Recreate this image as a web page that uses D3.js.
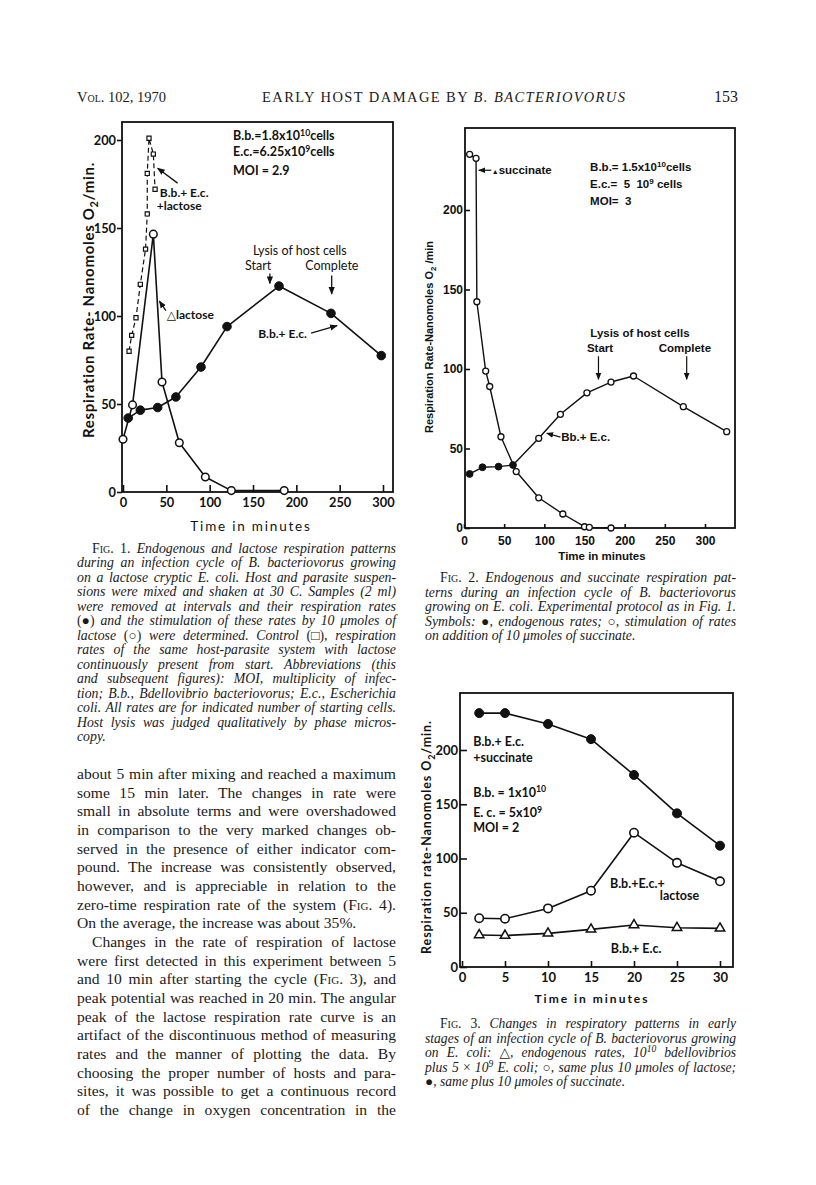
<!DOCTYPE html>
<html>
<head>
<meta charset="utf-8">
<script src="https://cdn.jsdelivr.net/npm/d3@7"></script>
<style>
  body { margin: 0; background: #fff; }
  svg { display: block; }
  .serif { font-family: "Liberation Serif", "DejaVu Serif", serif; fill: #1a1a1a; }
  .geo { font-family: Lato, "DejaVu Sans", sans-serif; font-weight: 700; fill: #111; }
  .narrow { font-family: "Liberation Sans Narrow", "Liberation Sans", Arial, sans-serif; font-weight: 700; fill: #111; }
</style>
</head>
<body>
<div id="page"></div>
<script>
// ---- Fig. 1 values (minutes, nanomoles O2/min)
const fig1EndoTime = [6, 20, 40, 61, 90, 120, 180, 240, 298];
const fig1EndoRate = [42, 46.5, 48, 54, 71, 94, 117, 101.5, 77.5];
const fig1LactoseTime = [0, 11, 35, 45, 65, 95, 125, 186];
const fig1LactoseRate = [30, 49.5, 146.5, 62.5, 28, 8.5, 0.8, 0.8];
const fig1ControlTime = [7, 10, 15, 20, 26, 28, 28, 30, 35, 37];
const fig1ControlRate = [80, 89, 99, 118, 138, 158, 181, 201, 192, 172];
const fig1XTicks = [0, 50, 100, 150, 200, 250, 300];
const fig1YTicks = [0, 50, 100, 150, 200];

// ---- Fig. 2 values
const fig2EndoTime = [7, 23, 43, 61];
const fig2EndoRate = [34, 38.2, 38.6, 39.6];
const fig2HostTime = [61, 93, 120, 153, 183, 211, 273, 327];
const fig2HostRate = [39.6, 56.4, 71.5, 85, 91.8, 95.6, 76.3, 60.6];
const fig2SuccTime = [7, 15, 16, 27, 32, 46, 65, 93, 123, 150, 156, 183];
const fig2SuccRate = [235, 232.5, 142.3, 98.7, 89, 57.4, 35.5, 19, 8.8, 0.8, 0.4, 0];
const fig2XTicks = [0, 50, 100, 150, 200, 250, 300];
const fig2YTicks = [0, 50, 100, 150, 200];

// ---- Fig. 3 values
const fig3Time = [2, 5, 10, 15, 20, 25, 30];
const fig3Endo = [29.5, 29, 31, 34.7, 38.7, 36.2, 35.6];
const fig3Lactose = [45, 44.5, 54, 70.3, 123.8, 96, 79];
const fig3Succinate = [234, 234, 224, 210, 177, 141.6, 111.8];
const fig3XTicks = [0, 5, 10, 15, 20, 25, 30];
const fig3YTicks = [0, 50, 100, 150, 200];

// ---- page text
const fig1Caption = [
  "{s:Fig. 1.} Endogenous and lactose respiration patterns",
  "during an infection cycle of B. bacteriovorus growing",
  "on a lactose cryptic E. coli. Host and parasite suspen-",
  "sions were mixed and shaken at 30 C. Samples (2 ml)",
  "were removed at intervals and their respiration rates",
  "{r:(●)} and the stimulation of these rates by 10 μmoles of",
  "lactose {r:(○)} were determined. Control {r:(□)}, respiration",
  "rates of the same host-parasite system with lactose",
  "continuously present from start. Abbreviations (this",
  "and subsequent figures): MOI, multiplicity of infec-",
  "tion; B.b., Bdellovibrio bacteriovorus; E.c., Escherichia",
  "coli. All rates are for indicated number of starting cells.",
  "Host lysis was judged qualitatively by phase micros-",
  "copy."
];
const bodyPara1 = [
  "about 5 min after mixing and reached a maximum",
  "some 15 min later. The changes in rate were",
  "small in absolute terms and were overshadowed",
  "in comparison to the very marked changes ob-",
  "served in the presence of either indicator com-",
  "pound. The increase was consistently observed,",
  "however, and is appreciable in relation to the",
  "zero-time respiration rate of the system ({s:Fig.} 4).",
  "On the average, the increase was about 35%."
];
const bodyPara2 = [
  "Changes in the rate of respiration of lactose",
  "were first detected in this experiment between 5",
  "and 10 min after starting the cycle ({s:Fig.} 3), and",
  "peak potential was reached in 20 min. The angular",
  "peak of the lactose respiration rate curve is an",
  "artifact of the discontinuous method of measuring",
  "rates and the manner of plotting the data. By",
  "choosing the proper number of hosts and para-",
  "sites, it was possible to get a continuous record",
  "of the change in oxygen concentration in the"
];
const fig2Caption = [
  "{s:Fig. 2.} Endogenous and succinate respiration pat-",
  "terns during an infection cycle of B. bacteriovorus",
  "growing on E. coli. Experimental protocol as in Fig. 1.",
  "Symbols: {r:●}, endogenous rates; {r:○}, stimulation of rates",
  "on addition of 10 μmoles of succinate."
];
const fig3Caption = [
  "{s:Fig. 3.} Changes in respiratory patterns in early",
  "stages of an infection cycle of B. bacteriovorus growing",
  "on E. coli: {r:△}, endogenous rates, 10^{10} bdellovibrios",
  "plus 5 {r:×} 10^{9} E. coli; {r:○}, same plus 10 μmoles of lactose;",
  "{r:●}, same plus 10 μmoles of succinate."
];

const svg = d3.select("#page").append("svg")
  .attr("width", 816)
  .attr("height", 1185);
svg.append("rect").attr("width", 816).attr("height", 1185).attr("fill", "#fff");

const defs = svg.append("defs");
defs.append("marker")
  .attr("id", "arr")
  .attr("viewBox", "0 0 10 10")
  .attr("refX", 9).attr("refY", 5)
  .attr("markerWidth", 6).attr("markerHeight", 6)
  .attr("orient", "auto")
  .append("path").attr("d", "M0,1L10,5L0,9z").attr("fill", "#111");

// text with small markup: ^{sup} _{sub} {r:upright} {i:italic} {s:small caps}
function rich(sel, str, fs) {
  const parts = str.split(/(\^\{[^}]*\}|_\{[^}]*\}|\{[ris]:[^}]*\})/).filter(s => s.length);
  let shift = 0;
  parts.forEach(p => {
    let txt = p, dy = 0, size = null, style = null, caps = false;
    if (p.startsWith("^{")) { txt = p.slice(2, -1); size = fs * 0.7; dy = -fs * 0.36; }
    else if (p.startsWith("_{")) { txt = p.slice(2, -1); size = fs * 0.72; dy = fs * 0.28; }
    else if (p.startsWith("{r:")) { txt = p.slice(3, -1); style = "normal"; }
    else if (p.startsWith("{i:")) { txt = p.slice(3, -1); style = "italic"; }
    else if (p.startsWith("{s:")) { txt = p.slice(3, -1); style = "normal"; caps = true; }
    const t = sel.append("tspan").text(txt);
    if (size) t.attr("font-size", size);
    if (dy - shift !== 0) t.attr("dy", dy - shift);
    shift = dy;
    if (style) t.style("font-style", style);
    if (caps) t.style("font-variant", "small-caps");
  });
}

function label(g, px, py, str, fs, anchor) {
  const t = g.append("text")
    .attr("x", px).attr("y", py)
    .attr("font-size", fs)
    .attr("text-anchor", anchor || "start")
    .style("white-space", "pre");
  rich(t, str, fs);
  return t;
}

// one paragraph, lines justified to the column width
function paragraph(lines, o) {
  const g = svg.append("g").attr("class", "serif").attr("font-size", o.fs)
    .style("font-style", o.italic ? "italic" : "normal");
  lines.forEach((ln, i) => {
    const ind = (i === 0 && o.indent) ? o.indent : 0;
    const t = label(g, o.x + ind, o.y + i * o.lh, ln, o.fs);
    const last = i === lines.length - 1 && !o.justifyLast;
    if (!last) {
      const w = t.node().getComputedTextLength();
      const n = (t.text().match(/ /g) || []).length;
      if (n) t.attr("word-spacing", (o.width - ind - w) / n);
    }
  });
}

function frame(g, f) {
  g.append("rect")
    .attr("x", f.left).attr("y", f.top)
    .attr("width", f.right - f.left).attr("height", f.bottom - f.top)
    .attr("fill", "none").attr("stroke", "#111").attr("stroke-width", 1.8);
}

function styleAxis(sel, fs, cls) {
  sel.select(".domain").remove();
  sel.attr("font-family", null).attr("font-size", fs).attr("class", cls);
  sel.selectAll("line").attr("stroke", "#111").attr("stroke-width", 1.6);
  sel.selectAll("text").attr("fill", "#111");
}

function series(g, x, y, xs, ys, w, dash) {
  const line = d3.line().x(d => x(d[0])).y(d => y(d[1]));
  g.append("path")
    .datum(d3.zip(xs, ys))
    .attr("d", line)
    .attr("fill", "none")
    .attr("stroke", "#111")
    .attr("stroke-width", w)
    .attr("stroke-linejoin", "round")
    .attr("stroke-dasharray", dash || null);
}

function marks(g, x, y, xs, ys, kind, r, sw) {
  const pts = d3.zip(xs, ys);
  if (kind === "filled" || kind === "open") {
    g.selectAll(null).data(pts).enter().append("circle")
      .attr("cx", d => x(d[0])).attr("cy", d => y(d[1])).attr("r", r)
      .attr("fill", kind === "filled" ? "#111" : "#fff")
      .attr("stroke", "#111").attr("stroke-width", sw);
  } else {
    const sym = d3.symbol().type(kind === "square" ? d3.symbolSquare : d3.symbolTriangle).size(r * r * 3);
    g.selectAll(null).data(pts).enter().append("path")
      .attr("transform", d => "translate(" + x(d[0]) + "," + y(d[1]) + ")")
      .attr("d", sym)
      .attr("fill", "#fff").attr("stroke", "#111").attr("stroke-width", sw);
  }
}

function arrow(g, x, y, a, b, w) {
  g.append("line")
    .attr("x1", x(a[0])).attr("y1", y(a[1]))
    .attr("x2", x(b[0])).attr("y2", y(b[1]))
    .attr("stroke", "#111").attr("stroke-width", w || 1.3)
    .attr("marker-end", "url(#arr)");
}

// ---------------- running head
const head = svg.append("g").attr("class", "serif").attr("font-size", 14.5);
label(head, 77, 102, "{s:Vol.} 102, 1970", 14.5);
label(head, 262, 102, "EARLY HOST DAMAGE BY {i:B. BACTERIOVORUS}", 14.5)
  .attr("textLength", 363).attr("lengthAdjust", "spacing");
label(head, 738, 102, "153", 16, "end");

// ---------------- Fig. 1
(function () {
  const f = { left: 122, top: 122, right: 393, bottom: 492 };
  const x = d3.scaleLinear().domain([0, 300]).range([123, 383]);
  const y = d3.scaleLinear().domain([0, 200]).range([492, 140]);
  const g = svg.append("g").attr("class", "geo");

  frame(g, f);
  g.append("g").attr("transform", "translate(0," + f.bottom + ")")
    .call(d3.axisBottom(x).tickValues(fig1XTicks).tickSizeInner(-7).tickSizeOuter(0).tickPadding(6))
    .call(styleAxis, 12.8, "geo");
  g.append("g").attr("transform", "translate(" + f.left + ",0)")
    .call(d3.axisLeft(y).tickValues(fig1YTicks).tickSizeInner(5).tickSizeOuter(0).tickPadding(1))
    .call(styleAxis, 12.8, "geo");

  series(g, x, y, fig1ControlTime, fig1ControlRate, 1.2, "5,3");
  series(g, x, y, fig1LactoseTime, fig1LactoseRate, 1.6);
  series(g, x, y, fig1EndoTime, fig1EndoRate, 1.6);
  marks(g, x, y, fig1ControlTime, fig1ControlRate, "square", 2.4, 1.2);
  marks(g, x, y, fig1LactoseTime, fig1LactoseRate, "open", 3.8, 1.5);
  marks(g, x, y, fig1EndoTime, fig1EndoRate, "filled", 4.3, 1);

  label(g, x(127), y(200), "B.b.=1.8x10^{10}cells", 12.5);
  label(g, x(127), y(190.9), "E.c.=6.25x10^{9}cells", 12.5);
  label(g, x(127), y(180), "MOI = 2.9", 12.5);

  label(g, x(42.5), y(167.5), "B.b.+ E.c.", 12);
  label(g, x(39), y(160), "+lactose", 12);
  arrow(g, x, y, [63, 175.5], [40, 184]);

  label(g, x(50.5), y(98.5), "△lactose", 12);
  arrow(g, x, y, [49.5, 103], [42, 108.5]);

  label(g, x(156), y(87.5), "B.b.+ E.c.", 12);
  arrow(g, x, y, [217, 90.3], [247, 94.5]);

  g.append("text").attr("x", x(204)).attr("y", y(134.7)).attr("font-size", 12.5)
    .attr("text-anchor", "middle").attr("font-weight", 400).text("Lysis of host cells");
  g.append("text").attr("x", x(156)).attr("y", y(126)).attr("font-size", 12.5)
    .attr("text-anchor", "middle").attr("font-weight", 400).text("Start");
  g.append("text").attr("x", x(241)).attr("y", y(126)).attr("font-size", 12.5)
    .attr("text-anchor", "middle").attr("font-weight", 400).text("Complete");
  arrow(g, x, y, [169.5, 124.2], [169.5, 118.5], 1.3);
  arrow(g, x, y, [240.8, 123], [240.8, 112.5], 1.3);

  label(g, 0, 0, "Respiration Rate- Nanomoles O_{2}/min.", 15)
    .attr("transform", "translate(94,300) rotate(-90)")
    .attr("text-anchor", "middle")
    .attr("letter-spacing", 0.7);
  g.append("text").attr("x", 251).attr("y", 531).attr("font-size", 13.5)
    .attr("font-weight", 400).attr("letter-spacing", 1.8)
    .attr("text-anchor", "middle").text("Time in minutes");
})();

// ---------------- Fig. 2
(function () {
  const f = { left: 465, top: 128, right: 735, bottom: 528 };
  const x = d3.scaleLinear().domain([0, 300]).range([464, 705]);
  const y = d3.scaleLinear().domain([0, 200]).range([528, 210]);
  const g = svg.append("g").attr("class", "narrow");

  frame(g, f);
  g.append("g").attr("transform", "translate(0," + f.bottom + ")")
    .call(d3.axisBottom(x).tickValues(fig2XTicks).tickSizeInner(-4).tickSizeOuter(0).tickPadding(8))
    .call(styleAxis, 12, "narrow");
  g.append("g").attr("transform", "translate(" + f.left + ",0)")
    .call(d3.axisLeft(y).tickValues(fig2YTicks).tickSizeInner(-5).tickSizeOuter(0).tickPadding(2))
    .call(styleAxis, 12, "narrow");

  series(g, x, y, fig2SuccTime, fig2SuccRate, 1.4);
  series(g, x, y, fig2EndoTime, fig2EndoRate, 1.4);
  series(g, x, y, fig2HostTime, fig2HostRate, 1.4);
  marks(g, x, y, fig2SuccTime, fig2SuccRate, "open", 3, 1.3);
  marks(g, x, y, fig2HostTime.slice(1), fig2HostRate.slice(1), "open", 3, 1.3);
  marks(g, x, y, fig2EndoTime, fig2EndoRate, "filled", 3.4, 1);

  arrow(g, x, y, [34, 225], [18.5, 225], 1.2);
  label(g, x(34.5), y(222.6), "{r:▲}succinate", 11.5).select("tspan").attr("font-size", 7);

  label(g, x(157), y(224.5), "B.b.= 1.5x10^{10}cells", 11.5);
  label(g, x(157), y(213.8), "E.c.=  5  10^{9} cells", 11.5);
  label(g, x(157), y(203.1), "MOI=  3", 11.5);

  label(g, x(219), y(120.1), "Lysis of host cells", 11.5, "middle");
  label(g, x(169.3), y(110.7), "Start", 11.5, "middle");
  label(g, x(275), y(110.7), "Complete", 11.5, "middle");
  arrow(g, x, y, [167.4, 108], [167.4, 93.5], 1.2);
  arrow(g, x, y, [277.2, 108], [277.2, 93.5], 1.2);

  arrow(g, x, y, [120, 57.2], [103, 59.6], 1.2);
  label(g, x(121), y(54.7), "Bb.+ E.c.", 11.5);

  label(g, 0, 0, "Respiration Rate-Nanomoles O_{2} /min", 11)
    .attr("transform", "translate(433,337) rotate(-90)")
    .attr("text-anchor", "middle");
  g.append("text").attr("x", 602).attr("y", 560).attr("font-size", 11.5)
    .attr("text-anchor", "middle").text("Time in minutes");
})();

// ---------------- Fig. 3
(function () {
  const f = { left: 460, top: 693, right: 733, bottom: 967 };
  const x = d3.scaleLinear().domain([0, 30]).range([462, 720]);
  const y = d3.scaleLinear().domain([0, 200]).range([967, 750]);
  const g = svg.append("g").attr("class", "geo");

  frame(g, f);
  g.append("g").attr("transform", "translate(0," + f.bottom + ")")
    .call(d3.axisBottom(x).tickValues(fig3XTicks).tickSizeInner(-6).tickSizeOuter(0).tickPadding(6))
    .call(styleAxis, 13, "geo");
  g.append("g").attr("transform", "translate(" + f.left + ",0)")
    .call(d3.axisLeft(y).tickValues(fig3YTicks).tickSizeInner(-7).tickSizeOuter(0).tickPadding(2))
    .call(styleAxis, 13, "geo");

  series(g, x, y, fig3Time, fig3Succinate, 1.6);
  series(g, x, y, fig3Time, fig3Lactose, 1.6);
  series(g, x, y, fig3Time, fig3Endo, 1.6);
  marks(g, x, y, fig3Time, fig3Succinate, "filled", 4.5, 1);
  marks(g, x, y, fig3Time, fig3Lactose, "open", 4.2, 1.6);
  marks(g, x, y, fig3Time, fig3Endo, "triangle", 3.6, 1.5);

  label(g, x(1.3), y(203.7), "B.b.+ E.c.", 12.5);
  label(g, x(1.3), y(189), "+succinate", 12.5);
  label(g, x(1.3), y(156.7), "B.b. = 1x10^{10}", 12.5);
  label(g, x(1.3), y(138.2), "E. c. = 5x10^{9}", 12.5);
  label(g, x(1.3), y(124.4), "MOI = 2", 12.5);
  label(g, x(17.2), y(72.8), "B.b.+E.c.+", 12.5);
  label(g, x(23), y(61.8), "lactose", 12.5);
  label(g, x(17.3), y(12.9), "B.b.+ E.c.", 12.5);

  label(g, 0, 0, "Respiration rate-Nanomoles O_{2}/min.", 12.5)
    .attr("transform", "translate(431,837) rotate(-90)")
    .attr("text-anchor", "middle")
    .attr("letter-spacing", 0.9);
  g.append("text").attr("x", 592).attr("y", 1003).attr("font-size", 12)
    .attr("letter-spacing", 2).attr("text-anchor", "middle").text("Time in minutes");
})();

// ---------------- captions and body text
paragraph(fig1Caption, { x: 77, y: 553, lh: 14.46, width: 319, fs: 13.8, italic: true, indent: 15 });
paragraph(bodyPara1, { x: 77, y: 779, lh: 18.67, width: 319, fs: 15.6 });
paragraph(bodyPara2, { x: 77, y: 779 + 9 * 18.67, lh: 18.67, width: 319, fs: 15.6, indent: 15, justifyLast: true });
paragraph(fig2Caption, { x: 425, y: 582, lh: 14.5, width: 311, fs: 13.8, italic: true, indent: 15 });
paragraph(fig3Caption, { x: 425, y: 1028, lh: 14.6, width: 311, fs: 13.6, italic: true, indent: 15 });
</script>
</body>
</html>
